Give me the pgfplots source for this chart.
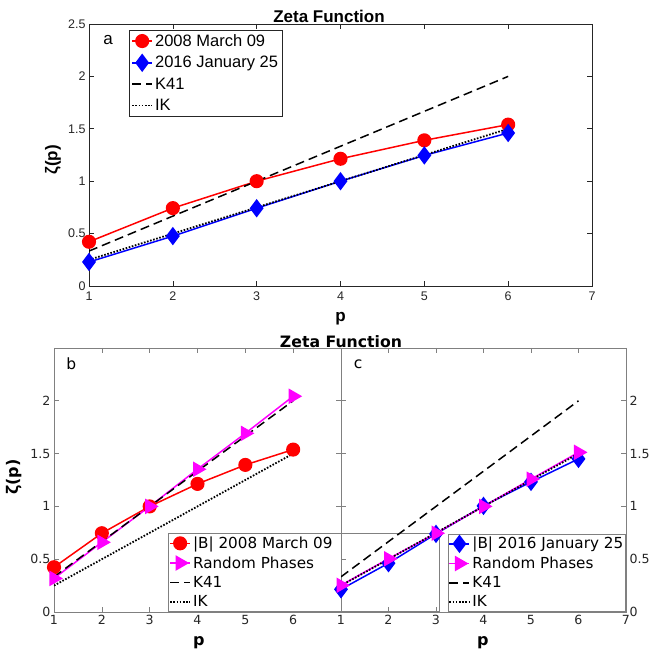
\documentclass[border=0pt]{standalone}
\usepackage{pgfplots}
\pgfplotsset{compat=1.18}
\usepackage{fontspec}
\setmainfont{Liberation Sans}
\newfontfamily\helv{Liberation Sans}
\newfontfamily\dejavu{DejaVu Sans}
\definecolor{axgray}{RGB}{38,38,38}
\definecolor{axgrayb}{RGB}{128,128,128}
\definecolor{mag}{RGB}{255,0,255}

\pgfplotstableread{
p   r08   b16   k41      ik
1   0.422 0.229 0.33333  0.25
2   0.743 0.476 0.66667  0.50
3   1.000 0.742 1.00000  0.75
4   1.214 1.000 1.33333  1.00
5   1.390 1.246 1.66667  1.25
6   1.540 1.460 2.00000  1.50
}\toptable

\pgfplotstableread{
p   r08   rp
1   0.424 0.318
2   0.746 0.660
3   1.000 1.000
4   1.213 1.352
5   1.393 1.692
6   1.538 2.043
}\btable

\pgfplotstableread{
p   b16   rp
1   0.215 0.253
2   0.462 0.504
3   0.740 0.746
4   1.005 1.000
5   1.232 1.258
6   1.450 1.512
}\ctable

\pgfplotsset{
  matstyle/.style={
    scale only axis,
    xmin=1,xmax=7,ymin=0,ymax=2.5,
    tick align=inside,
    major tick length=5pt,
    /pgf/number format/assume math mode=true,
    axis line style={line width=0.6pt},
    tick style={line width=0.6pt},
    legend cell align=left,
    legend image code/.code={
      \draw[mark repeat=2,mark phase=2,##1] plot coordinates {(0pt,0pt) (10pt,0pt) (20pt,0pt)};
    },
  },
  redl/.style={red, line width=1.5pt, mark=*, mark size=6.3pt, mark options={solid, fill=red}},
  bluel/.style={blue, line width=1.5pt, mark=diamond*, mark size=8pt, mark options={solid, fill=blue}},
  magl/.style={mag, line width=1.5pt, mark=triangle*, mark size=7.5pt, mark options={solid, fill=mag, rotate=-90}},
  k41l/.style={black, line width=1.5pt, dash pattern=on 9pt off 5pt, mark=none},
  ikl/.style={black, line width=1.8pt, dash pattern=on 1.6pt off 1.6pt, mark=none},
}

\begin{document}
\begin{tikzpicture}
\path[use as bounding box] (0pt,0pt) rectangle (651pt,654pt);

% ---------- panel a ----------
\begin{axis}[matstyle,
  at={(89pt,630pt)}, anchor=north west, width=503pt, height=262pt,
  xtick={1,2,3,4,5,6,7},
  xticklabels={1,2,3,4,5,6,7},
  ytick={0,0.5,1,1.5,2,2.5},
  yticklabels={0,0.5,1,1.5,2,2.5},
  axis line style={axgray},
  tick style={axgray},
  ticklabel style={font=\helv\fontsize{12.5}{14}\selectfont, text=axgray},
  xticklabel style={yshift=-2pt},
  xlabel={\textbf{p}},
  ylabel={\textbf{ζ(p)}},
  xlabel style={font=\helv\fontsize{17}{19}\selectfont, at={(axis description cs:0.5,-0.125)}, anchor=center},
  ylabel style={font=\helv\fontsize{17}{19}\selectfont, at={(axis description cs:-0.0716,0.481)}, anchor=center},
  legend style={at={(0.0795,0.977)}, anchor=north west, draw=axgray, line width=0.6pt, fill=white,
    font=\helv\fontsize{16.5}{18}\selectfont, inner sep=2pt, row sep=4.5pt},
]
\addplot[redl] table[x=p,y=r08] {\toptable};
\addlegendentry{2008 March 09}
\addplot[bluel] table[x=p,y=b16] {\toptable};
\addlegendentry{2016 January 25}
\addplot[k41l] table[x=p,y=k41] {\toptable};
\addlegendentry{K41}
\addplot[ikl] table[x=p,y=ik] {\toptable};
\addlegendentry{IK}
\node[font=\helv\fontsize{17}{19}\selectfont, text=black] at (axis description cs:0.038,0.94) {a};
\end{axis}

% ---------- panel b ----------
\begin{axis}[matstyle,
  at={(54pt,306pt)}, anchor=north west, width=287pt, height=264pt,
  xtick={1,2,3,4,5,6},
  xticklabels={1,2,3,4,5,6},
  ytick={0,0.5,1,1.5,2},
  yticklabels={0,0.5,1,1.5,2},
  axis line style={axgrayb},
  tick style={axgrayb},
  ticklabel style={font=\dejavu\fontsize{12.6}{14}\selectfont, text=axgray},
  xlabel={\textbf{p}},
  ylabel={\textbf{ζ(p)}},
  xlabel style={font=\dejavu\fontsize{16}{18}\selectfont, at={(axis description cs:0.505,-0.117)}, anchor=center},
  ylabel style={font=\dejavu\fontsize{16}{18}\selectfont, at={(axis description cs:-0.139,0.511)}, anchor=center},
  legend style={at={(0.397,0.003)}, anchor=south west, draw=axgrayb, line width=0.6pt, fill=white,
    font=\dejavu\fontsize{15.2}{17}\selectfont, inner sep=1pt, row sep=2.6pt},
]
\addplot[redl] table[x=p,y=r08] {\btable};
\addlegendentry{|B| 2008 March 09\hspace*{104pt}}
\addplot[magl] table[x=p,y=rp] {\btable};
\addlegendentry{Random Phases}
\addplot[k41l] table[x=p,y=k41] {\toptable};
\addlegendentry{K41}
\addplot[ikl] table[x=p,y=ik] {\toptable};
\addlegendentry{IK}
\node[font=\dejavu\fontsize{15.5}{17}\selectfont, text=black] at (axis description cs:0.06,0.94) {b};
\end{axis}

% ---------- panel c ----------
\begin{axis}[matstyle,
  at={(341pt,306pt)}, anchor=north west, width=285pt, height=264pt,
  xtick={1,2,3,4,5,6,7},
  xticklabels={1,2,3,4,5,6,7},
  ytick={0,0.5,1,1.5,2},
  yticklabels={0,0.5,1,1.5,2},
  yticklabel pos=right,
  axis line style={axgrayb},
  tick style={axgrayb},
  ticklabel style={font=\dejavu\fontsize{12.6}{14}\selectfont, text=axgray},
  xlabel={\textbf{p}},
  xlabel style={font=\dejavu\fontsize{16}{18}\selectfont, at={(axis description cs:0.498,-0.117)}, anchor=center},
  legend style={at={(1,0.003)}, anchor=south east, draw=axgrayb, line width=0.6pt, fill=white,
    font=\dejavu\fontsize{15.2}{17}\selectfont, inner sep=0.5pt, row sep=2.6pt},
]
\addplot[bluel] table[x=p,y=b16] {\ctable};
\addlegendentry{|B| 2016 January 25}
\addplot[magl] table[x=p,y=rp] {\ctable};
\addlegendentry{Random Phases}
\addplot[k41l] table[x=p,y=k41] {\toptable};
\addlegendentry{K41}
\addplot[ikl] table[x=p,y=ik] {\toptable};
\addlegendentry{IK}
\node[font=\dejavu\fontsize{15.5}{17}\selectfont, text=black] at (axis description cs:0.06,0.94) {c};
\end{axis}

\node[font=\helv\bfseries\fontsize{17}{19}\selectfont] at (329pt,638pt) {Zeta Function};
\node[font=\dejavu\bfseries\fontsize{15.7}{18}\selectfont] at (341pt,312pt) {Zeta Function};
\end{tikzpicture}
\end{document}
